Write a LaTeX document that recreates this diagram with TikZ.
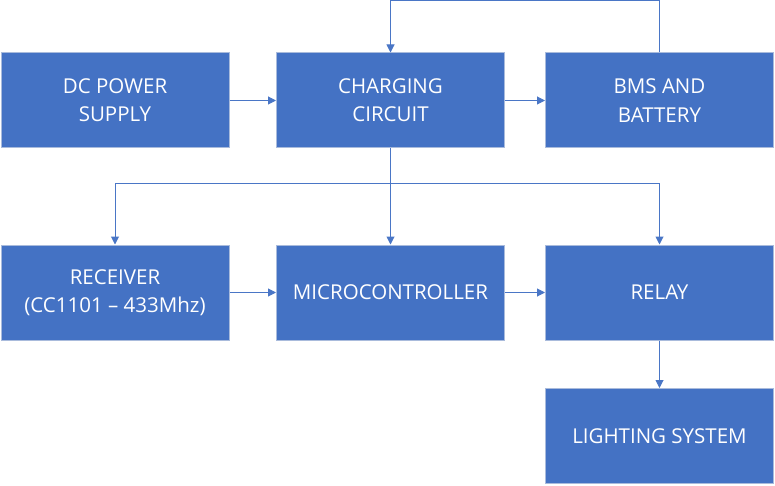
\documentclass[tikz,border=0pt]{standalone}
\usepackage{fontspec}
\setmainfont{Open Sans}
\usetikzlibrary{arrows.meta}
\definecolor{boxblue}{HTML}{4472C4}
\definecolor{boxedge}{HTML}{A9BBDC}
\definecolor{linkblue}{HTML}{4A76C6}
\begin{document}
\begin{tikzpicture}[x=1pt,y=1pt,
  blk/.style={rectangle, fill=boxblue, draw=boxedge, line width=1pt, minimum width=228pt, minimum height=95pt, inner sep=0pt, text=white, align=center, font=\fontsize{20.5}{28.3}\selectfont},
  link/.style={draw=linkblue, line width=1pt, -{Triangle[length=8pt,width=8pt]}},
  plain/.style={draw=linkblue, line width=1pt}]
\useasboundingbox (0,0) rectangle (775,485);
\node[blk] (dc) at (115,384.5) {DC POWER\\SUPPLY};
\node[blk] (chg) at (390.5,384.5) {CHARGING\\CIRCUIT};
\node[blk] (bms) at (659.5,384.5) {BMS AND\\BATTERY};
\node[blk] (rx) at (115,192.5) {RECEIVER\\(CC1101 – 433Mhz)};
\node[blk] (mcu) at (390.5,192.5) {MICROCONTROLLER};
\node[blk] (rel) at (659.5,192.5) {RELAY};
\node[blk] (lit) at (659.5,49) {LIGHTING SYSTEM};
\coordinate (top) at (390.5,484);
\coordinate (bus) at (390.5,301);
\draw[link] (dc.east) -- (chg.west);
\draw[link] (chg.east) -- (bms.west);
\draw[link] (bms.north) |- (top) -- (chg.north);
\draw[plain] (chg.south) -- (bus);
\draw[link] (bus) -| (rx.north);
\draw[link] (bus) -- (mcu.north);
\draw[link] (bus) -| (rel.north);
\draw[link] (mcu.east) -- (rel.west);
\draw[link] (rx.east) -- (mcu.west);
\draw[link] (rel.south) -- (lit.north);
\end{tikzpicture}
\end{document}
